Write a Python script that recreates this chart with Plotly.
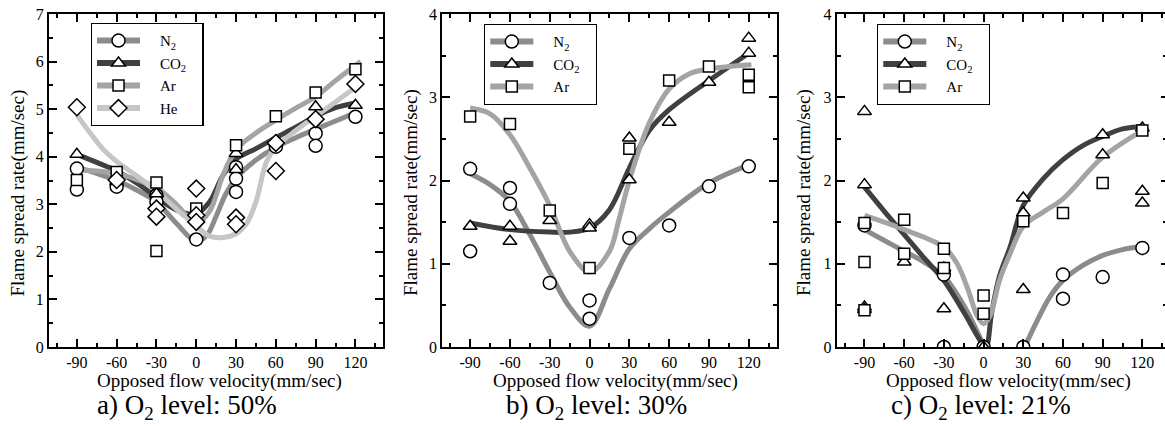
import plotly.graph_objects as go

# ---------------- data ----------------
gas_labels = {"N2": "N<sub>2</sub>", "CO2": "CO<sub>2</sub>", "Ar": "Ar", "He": "He"}

# Panel a) O2 50%  -- measured points
a_N2_x = [-90, -90, -60, -30, -30, 0, 30, 30, 30, 60, 90, 90, 120]
a_N2_y = [3.75, 3.31, 3.37, 3.19, 3.05, 2.26, 3.78, 3.54, 3.26, 4.21, 4.49, 4.23, 4.84]
a_CO2_x = [-90, -60, -30, 0, 30, 30, 60, 90, 120]
a_CO2_y = [4.05, 3.48, 3.22, 2.8, 4.07, 3.73, 4.3, 5.05, 5.08]
a_Ar_x = [-90, -60, -30, -30, 0, 30, 60, 90, 120]
a_Ar_y = [3.51, 3.68, 3.46, 2.02, 2.91, 4.24, 4.85, 5.35, 5.84]
a_He_x = [-90, -60, -30, -30, 0, 0, 0, 30, 30, 60, 60, 90, 120]
a_He_y = [5.04, 3.51, 2.91, 2.74, 3.33, 2.77, 2.63, 2.72, 2.58, 4.29, 3.70, 4.79, 5.53]

# Panel a) fitted curves
a_N2_cx = [-90, -75, -60, -45, -30, -15, 0, 8, 15, 22, 30, 45, 60, 75, 90, 105, 120]
a_N2_cy = [3.78, 3.65, 3.5, 3.3, 3.05, 2.6, 2.22, 2.35, 2.75, 3.2, 3.55, 3.93, 4.2, 4.4, 4.58, 4.75, 4.93]
a_CO2_cx = [-90, -75, -60, -45, -30, -15, 0, 10, 20, 30, 45, 60, 75, 90, 105, 120]
a_CO2_cy = [4.05, 3.88, 3.7, 3.45, 3.15, 2.88, 2.8, 3.05, 3.6, 3.95, 4.17, 4.4, 4.62, 4.85, 5.03, 5.13]
a_Ar_cx = [-90, -75, -60, -45, -30, -15, 0, 10, 20, 30, 45, 60, 75, 90, 105, 124]
a_Ar_cy = [3.72, 3.7, 3.65, 3.52, 3.35, 3.0, 2.6, 2.85, 3.6, 4.15, 4.5, 4.77, 5.02, 5.26, 5.6, 6.0]
a_He_cx = [-90, -80, -70, -60, -45, -30, -15, 0, 10, 20, 30, 38, 45, 53, 60, 75, 90, 105, 122]
a_He_cy = [4.88, 4.5, 4.15, 3.9, 3.6, 3.28, 2.9, 2.55, 2.33, 2.3, 2.38, 2.6, 3.05, 3.9, 4.2, 4.55, 4.85, 5.15, 5.5]

# Panel b) O2 30%  -- measured points
b_N2_x = [-90, -90, -60, -60, -30, 0, 0, 30, 60, 90, 120]
b_N2_y = [2.14, 1.15, 1.91, 1.72, 0.77, 0.56, 0.34, 1.31, 1.46, 1.93, 2.17]
b_CO2_x = [-90, -60, -60, -30, 0, 0, 30, 30, 60, 90, 120, 120]
b_CO2_y = [1.45, 1.45, 1.27, 1.52, 1.47, 1.43, 2.51, 2.01, 2.70, 3.18, 3.71, 3.53]
b_Ar_x = [-90, -60, -30, 0, 30, 60, 90, 120, 120]
b_Ar_y = [2.77, 2.68, 1.64, 0.95, 2.38, 3.20, 3.37, 3.27, 3.12]

# Panel b) fitted curves
b_N2_cx = [-90, -75, -60, -45, -30, -15, 0, 15, 30, 45, 60, 90, 122]
b_N2_cy = [2.08, 1.95, 1.75, 1.35, 0.9, 0.48, 0.25, 0.7, 1.18, 1.42, 1.62, 1.97, 2.2]
b_CO2_cx = [-90, -60, -30, -15, 0, 15, 30, 45, 60, 90, 122]
b_CO2_cy = [1.49, 1.41, 1.38, 1.38, 1.43, 1.65, 2.15, 2.6, 2.85, 3.2, 3.55]
b_Ar_cx = [-90, -75, -60, -45, -30, -15, 0, 15, 22, 30, 45, 60, 75, 90, 122]
b_Ar_cy = [2.87, 2.8, 2.55, 2.15, 1.7, 1.15, 0.9, 1.15, 1.52, 2.0, 2.69, 3.1, 3.28, 3.34, 3.39]

# Panel c) O2 21%  -- measured points
c_N2_x = [-90, -30, -30, 0, 30, 60, 60, 90, 120]
c_N2_y = [1.46, 0.87, 0.0, 0.0, 0.0, 0.87, 0.58, 0.84, 1.19]
c_CO2_x = [-90, -90, -90, -90, -60, -30, -30, 0, 30, 30, 30, 90, 90, 120, 120, 120]
c_CO2_y = [2.83, 1.95, 0.48, 0.45, 1.02, 0.95, 0.46, 0.0, 1.79, 1.61, 0.69, 2.55, 2.31, 2.63, 1.87, 1.73]
c_Ar_x = [-90, -90, -90, -60, -60, -30, -30, 0, 0, 30, 60, 90, 120]
c_Ar_y = [1.49, 1.02, 0.44, 1.53, 1.12, 1.18, 0.95, 0.62, 0.40, 1.51, 1.61, 1.97, 2.60]

# Panel c) fitted curves (N2 curve has a gap between 0 and 30)
c_N2_cx = [-90, -75, -60, -45, -30, -15, 0, None, 31, 40, 50, 60, 75, 90, 105, 120]
c_N2_cy = [1.41, 1.28, 1.15, 1.02, 0.85, 0.5, 0.02, None, 0.0, 0.3, 0.6, 0.8, 0.98, 1.1, 1.17, 1.21]
c_CO2_cx = [-90, -75, -60, -45, -30, -15, 0, 2, 6, 12, 20, 30, 45, 60, 75, 90, 105, 120]
c_CO2_cy = [1.92, 1.63, 1.35, 1.07, 0.8, 0.42, 0.02, 0.0, 0.4, 0.85, 1.2, 1.7, 2.02, 2.25, 2.42, 2.53, 2.62, 2.65]
c_Ar_cx = [-90, -60, -30, -20, -12, -5, 0, 5, 12, 20, 30, 45, 60, 90, 120]
c_Ar_cy = [1.58, 1.41, 1.2, 1.0, 0.7, 0.38, 0.28, 0.38, 0.8, 1.12, 1.45, 1.62, 1.78, 2.28, 2.6]

x_tickvals = [-90, -60, -30, 0, 30, 60, 90, 120]
x_ticktext = ["-90", "-60", "-30", "0", "30", "60", "90", "120"]
captions = ["a) O<sub>2</sub> level: 50%", "b) O<sub>2</sub> level: 30%", "c) O<sub>2</sub> level: 21%"]
x_title = "Opposed flow velocity(mm/sec)"
y_title = "Flame spread rate(mm/sec)"

# ---------------- styles ----------------
line_color = {"N2": "#8c8c8c", "CO2": "#404040", "Ar": "#a4a4a4", "He": "#c6c6c6"}
symbol = {"N2": "circle", "CO2": "triangle-up", "Ar": "square", "He": "diamond"}
msize = {"N2": 13, "CO2": 12, "Ar": 11, "He": 13}
FONT = "'Liberation Serif', 'Times New Roman', Times, serif"
NB_PRE = "\u00a0" * 4
NB_POST = "\u00a0" * 3

W, H = 1165, 426
def px(x):
    return min(x / W, 1.0)
def py(y):
    return 1 - y / H

panel_px = [(49, 383.3), (442.3, 776.6), (836.7, 1165)]
x_ranges = [[-111, 141], [-111, 141], [-111, 137.1]]
y_top, y_bot = 14, 347
y_ranges = [[0, 7], [0, 4], [0, 4]]

panels = [
    {"pts": {"N2": (a_N2_x, a_N2_y), "CO2": (a_CO2_x, a_CO2_y), "Ar": (a_Ar_x, a_Ar_y), "He": (a_He_x, a_He_y)},
     "crv": {"N2": (a_N2_cx, a_N2_cy), "CO2": (a_CO2_cx, a_CO2_cy), "Ar": (a_Ar_cx, a_Ar_cy), "He": (a_He_cx, a_He_cy)},
     "legend_px": (90.7, 23)},
    {"pts": {"N2": (b_N2_x, b_N2_y), "CO2": (b_CO2_x, b_CO2_y), "Ar": (b_Ar_x, b_Ar_y)},
     "crv": {"N2": (b_N2_cx, b_N2_cy), "CO2": (b_CO2_cx, b_CO2_cy), "Ar": (b_Ar_cx, b_Ar_cy)},
     "legend_px": (484, 24)},
    {"pts": {"N2": (c_N2_x, c_N2_y), "CO2": (c_CO2_x, c_CO2_y), "Ar": (c_Ar_x, c_Ar_y)},
     "crv": {"N2": (c_N2_cx, c_N2_cy), "CO2": (c_CO2_cx, c_CO2_cy), "Ar": (c_Ar_cx, c_Ar_cy)},
     "legend_px": (877, 24)},
]

fig = go.Figure()
legend_names = ["legend", "legend2", "legend3"]

for i, p in enumerate(panels):
    xa = "x" if i == 0 else f"x{i+1}"
    ya = "y" if i == 0 else f"y{i+1}"
    lg = legend_names[i]
    for g, (cx, cy) in p["crv"].items():
        fig.add_trace(go.Scatter(x=cx, y=cy, mode="lines", xaxis=xa, yaxis=ya,
                                 line=dict(color=line_color[g], width=5, shape="spline", smoothing=1.0),
                                 showlegend=False, hoverinfo="skip", connectgaps=False))
    for g, (x, y) in p["pts"].items():
        fig.add_trace(go.Scatter(x=x, y=y, mode="markers", xaxis=xa, yaxis=ya,
                                 marker=dict(symbol=symbol[g], size=msize[g], color="white",
                                             line=dict(color="black", width=1.5)),
                                 showlegend=False))
    for g in p["pts"].keys():
        fig.add_trace(go.Scatter(x=[None], y=[None], mode="lines+markers", xaxis=xa, yaxis=ya,
                                 name=NB_PRE + gas_labels[g] + NB_POST, legend=lg,
                                 line=dict(color=line_color[g], width=6),
                                 marker=dict(symbol=symbol[g], size=msize[g], color="white",
                                             line=dict(color="black", width=1.5))))

# invisible helper trace for panel c right-side ticks (its frame edge lies beyond the picture)
fig.add_trace(go.Scatter(x=[None], y=[None], xaxis="x3", yaxis="y4", showlegend=False, hoverinfo="skip"))

layout = dict(width=W, height=H, margin=dict(l=0, r=0, t=0, b=0, autoexpand=False),
              paper_bgcolor="white", plot_bgcolor="white",
              font=dict(family=FONT, color="black", size=16), annotations=[])

tick_common = dict(ticks="inside", ticklen=8, tickwidth=2, tickcolor="black", automargin=False,
                   showgrid=False, zeroline=False, tickfont=dict(size=16, family=FONT, color="black"))
for i in range(3):
    xk = "xaxis" if i == 0 else f"xaxis{i+1}"
    yk = "yaxis" if i == 0 else f"yaxis{i+1}"
    x0, x1 = panel_px[i]
    layout[xk] = dict(domain=[px(x0), px(x1)], range=x_ranges[i], anchor="y" if i == 0 else f"y{i+1}",
                      showline=True, linecolor="black", linewidth=2, mirror="ticks",
                      tickmode="array", tickvals=x_tickvals, ticktext=x_ticktext,
                      minor=dict(ticks="inside", ticklen=4, tickwidth=2, tickcolor="black", tickmode="linear",
                                 tick0=0, dtick=15), **tick_common)
    layout[yk] = dict(domain=[py(y_bot), py(y_top)], range=y_ranges[i], anchor="x" if i == 0 else f"x{i+1}",
                      showline=True, linecolor="black", linewidth=2, mirror="ticks" if i < 2 else False,
                      dtick=1, tick0=0,
                      minor=dict(ticks="inside", ticklen=4, tickwidth=2, tickcolor="black", dtick=0.5, tick0=0),
                      **tick_common)
    lx, ly = panels[i]["legend_px"]
    layout[legend_names[i]] = dict(x=px(lx), y=py(ly), xanchor="left", yanchor="top",
                                   bordercolor="black", borderwidth=1.3, bgcolor="white",
                                   font=dict(family=FONT, size=15, color="black"),
                                   itemwidth=43, tracegroupgap=0)

layout["yaxis4"] = dict(overlaying="y3", side="right", anchor="x3", range=y_ranges[2],
                        showline=False, showticklabels=False, ticks="inside", ticklen=4, tickwidth=2,
                        tickcolor="black", dtick=1, tick0=0, showgrid=False, zeroline=False, automargin=False,
                        minor=dict(ticks="inside", ticklen=2, tickwidth=2, tickcolor="black", dtick=0.5, tick0=0))

ytitle_x = [17.5, 411, 804]
xtitle_x = [219.5, 615, 1008]
caption_x = [186.5, 596.5, 981]
for i in range(3):
    layout["annotations"].append(dict(text=y_title, x=px(ytitle_x[i]), y=py(193), xref="paper", yref="paper",
                                      textangle=-90, showarrow=False, font=dict(family=FONT, size=19),
                                      xanchor="center", yanchor="middle", borderpad=0))
    layout["annotations"].append(dict(text=x_title, x=px(xtitle_x[i]), y=py(381), xref="paper", yref="paper",
                                      showarrow=False, font=dict(family=FONT, size=19),
                                      xanchor="center", yanchor="middle", borderpad=0))
    layout["annotations"].append(dict(text=captions[i], x=px(caption_x[i]), y=py(407), xref="paper", yref="paper",
                                      showarrow=False, font=dict(family=FONT, size=27),
                                      xanchor="center", yanchor="middle", borderpad=0))

fig.update_layout(**layout)
fig.write_html("out.html",
               post_script="document.documentElement.style.margin='0';document.body.style.margin='0';"
                           "document.body.style.padding='0';document.body.style.overflow='hidden';")
